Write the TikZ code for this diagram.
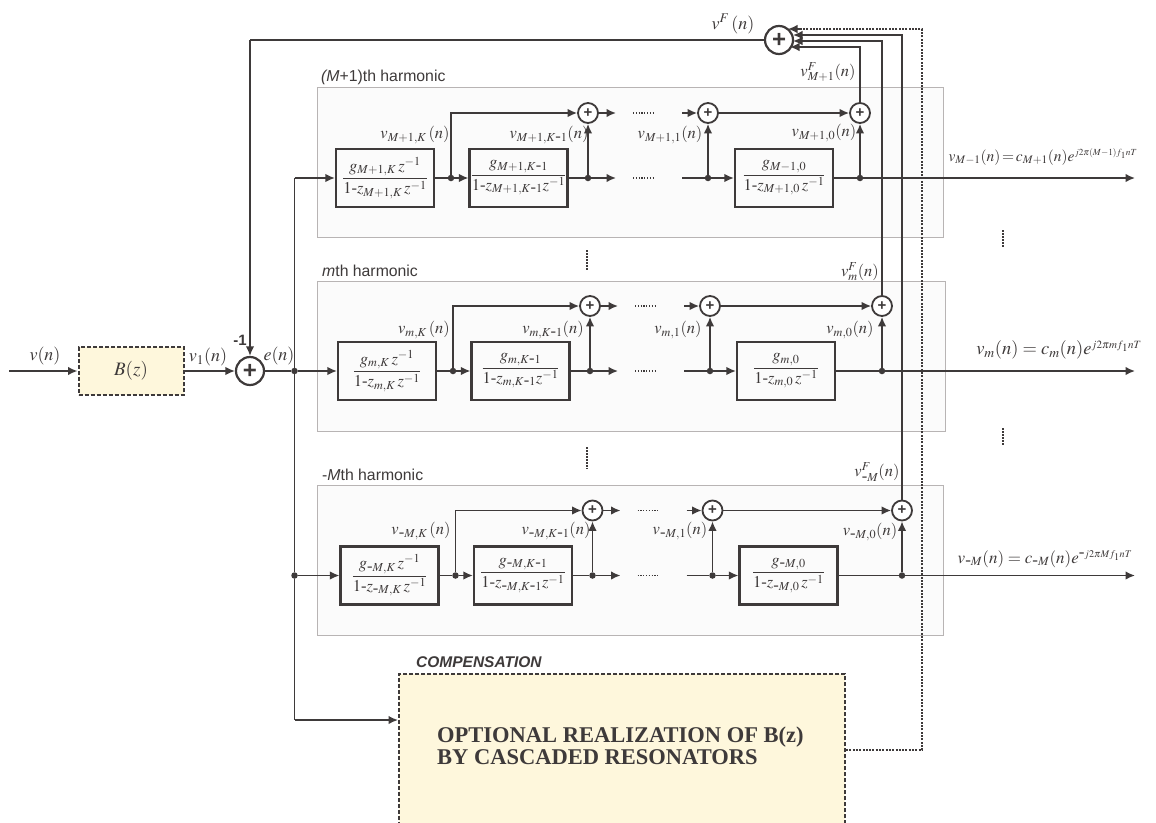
\documentclass[tikz,border=0pt]{standalone}
\usepackage{mathptmx}
\usepackage{fontspec}
\setmainfont{Liberation Serif}
\newfontfamily\hsans{Liberation Sans}
\usetikzlibrary{arrows.meta,calc}
\definecolor{ink}{HTML}{3E3A3A}
\definecolor{cream}{HTML}{FEF7DC}
\definecolor{paneledge}{HTML}{B8B4B4}
\definecolor{panelfill}{HTML}{FBFBFB}
\tikzset{
 wire/.style={draw=ink,line width=1.6pt},
 arr/.style={wire,-{Latex[length=9.5pt,width=8.5pt]}},
 panelbox/.style={draw=paneledge,fill=panelfill,line width=0.8pt},
 resbox/.style={draw=ink,fill=panelfill,line width=2.2pt,minimum width=98pt,minimum height=58pt,inner sep=0pt,text=ink,font=\fontsize{16.5}{19}\selectfont},
 smallsum/.style={circle,draw=ink,fill=white,line width=1.8pt,minimum size=20pt,inner sep=0pt,text=ink,font=\hsans\bfseries\fontsize{15}{15}\selectfont},
 bigsum/.style={circle,draw=ink,fill=white,line width=2.2pt,minimum size=28pt,inner sep=0pt,text=ink,font=\hsans\bfseries\fontsize{24}{24}\selectfont},
 junction/.style={circle,fill=ink,minimum size=6.5pt,inner sep=0pt},
 lab/.style={text=ink,inner sep=0pt,font=\fontsize{16.5}{19}\selectfont},
 outlab/.style={text=ink,inner sep=0pt,font=\fontsize{17}{19}\selectfont},
 head/.style={text=ink,inner sep=0pt,anchor=west,font=\hsans\fontsize{15.8}{18}\selectfont},
 cream box/.style={draw=ink,fill=cream,line width=2pt,dash pattern=on 4pt off 2pt},
 dotrun/.style={draw=ink,line width=1.5pt,dash pattern=on 1.5pt off 1.5pt},
 thindots/.style={draw=ink,line width=1.2pt,dash pattern=on 1.2pt off 1.6pt},
 comp wire/.style={draw=ink,line width=1.5pt,dash pattern=on 2pt off 1.3pt},
}
% #1 prefix, #2 dx, #3 y of line, #4 x of last sum, #5-#7 fractions
\newcommand{\harmrow}[7]{%
 \node[resbox] (#1b1) at (385+#2,#3) {$\displaystyle #5$};
 \node[resbox] (#1b2) at (518.5+#2,#3) {$\displaystyle #6$};
 \node[resbox] (#1b3) at (784+#2,#3) {$\displaystyle #7$};
 \node[junction] (#1j1) at (451+#2,#3) {};
 \node[junction] (#1j2) at (588+#2,#3) {};
 \node[junction] (#1j3) at (708+#2,#3) {};
 \node[junction] (#1j4) at (#4,#3) {};
 \node[smallsum] (#1s1) at (588+#2,#3-65) {+};
 \node[smallsum] (#1s2) at (708+#2,#3-65) {+};
 \node[smallsum] (#1s3) at (#4,#3-65) {+};
 \coordinate (#1t1) at (616+#2,#3-65);
 \coordinate (#1t2) at (682+#2,#3-65);
 \coordinate (#1t3) at (616+#2,#3);
 \coordinate (#1t4) at (682+#2,#3);
 \coordinate (#1out) at (1135,#3);
 \draw[wire] (#1b1.east) -- (#1j1);
 \draw[arr] (#1j1) -- (#1b2.west);
 \draw[arr] (#1j1) |- (#1s1.west);
 \draw[wire] (#1b2.east) -- (#1j2);
 \draw[arr] (#1j2) -- (#1s1.south);
 \draw[arr] (#1s1.east) -- (#1t1);
 \draw[arr] (#1j2) -- (#1t3);
 \draw[arr] (#1t2) -- (#1s2.west);
 \draw[wire] (#1t4) -- (#1j3);
 \draw[arr] (#1j3) -- (#1s2.south);
 \draw[arr] (#1j3) -- (#1b3.west);
 \draw[arr] (#1s2.east) -- (#1s3.west);
 \draw[wire] (#1b3.east) -- (#1j4);
 \draw[arr] (#1j4) -- (#1s3.south);
 \draw[arr] (#1j4) -- (#1out);
 \draw[thindots] (633+#2,#3-65) -- (655+#2,#3-65);
 \draw[thindots] (633+#2,#3) -- (655+#2,#3);
}
\newcommand{\rfrac}[2]{\frac{#1}{#2}}
\begin{document}
\begin{tikzpicture}[x=1pt,y=-1pt]
\clip (0,0) rectangle (1156,822);
\fill[white] (0,0) rectangle (1156,822);
% panels
\node[panelbox,minimum width=626pt,minimum height=150pt,inner sep=0pt] (p1) at (630,162) {};
\node[panelbox,minimum width=628pt,minimum height=150pt,inner sep=0pt] (p2) at (631,356) {};
\node[panelbox,minimum width=626pt,minimum height=150pt,inner sep=0pt] (p3) at (630,560) {};
\node[head] (h1) at (321,77) {\textit{(M}+1)th harmonic};
\node[head] (h2) at (322,271) {\textit{m}th harmonic};
\node[head] (h3) at (322,475) {-\textit{M}th harmonic};
% rows
\harmrow{a}{0}{178}{860}
 {\rfrac{g_{M+1,K}\,z^{-1}}{1\mbox{-}z_{M+1,K}\,z^{-1}}}
 {\rfrac{g_{M+1,K\mbox{-}1}}{1\mbox{-}z_{M+1,K\mbox{-}1}z^{-1}}}
 {\rfrac{g_{M-1,0}}{1\mbox{-}z_{M+1,0}\,z^{-1}}}
\harmrow{b}{2}{371}{882}
 {\rfrac{g_{m,K}\,z^{-1}}{1\mbox{-}z_{m,K}\,z^{-1}}}
 {\rfrac{g_{m,K\mbox{-}1}}{1\mbox{-}z_{m,K\mbox{-}1}z^{-1}}}
 {\rfrac{g_{m,0}}{1\mbox{-}z_{m,0}\,z^{-1}}}
\harmrow{c}{4.5}{575.5}{902}
 {\rfrac{g_{\mbox{-}M,K}\,z^{-1}}{1\mbox{-}z_{\mbox{-}M,K}\,z^{-1}}}
 {\rfrac{g_{\mbox{-}M,K\mbox{-}1}}{1\mbox{-}z_{\mbox{-}M,K\mbox{-}1}z^{-1}}}
 {\rfrac{g_{\mbox{-}M,0}}{1\mbox{-}z_{\mbox{-}M,0}\,z^{-1}}}
% input
\coordinate (in) at (9,371);
\node[cream box,minimum width=105pt,minimum height=48pt,inner sep=0pt,text=ink,font=\fontsize{19}{22}\selectfont] (bz) at (131,371) {$B(z)$};
\node[bigsum] (se) at (250,371) {+};
\node[junction] (je) at (294.5,371) {};
\node[bigsum] (sf) at (779,40) {+};
\node[junction] (jc) at (294.5,575.5) {};
\coordinate (tp) at (294.5,178);
\coordinate (bt) at (294.5,720);
\node[cream box,draw=ink,minimum width=446pt,minimum height=160pt,inner sep=0pt] (comp) at (622,754) {};
\node[anchor=west,inner sep=0pt,text=ink,align=left,font=\bfseries\fontsize{22.5}{22}\selectfont] (comptext) at (437,746) {OPTIONAL REALIZATION OF B(z)\\BY CASCADED RESONATORS};
\node[anchor=west,inner sep=0pt,text=ink,font=\hsans\bfseries\itshape\fontsize{15.5}{17}\selectfont] (comphead) at (416,662) {COMPENSATION};
\draw[arr] (in) -- (bz.west);
\draw[arr] (bz.east) -- (se.west);
\draw[wire] (se.east) -- (je);
\draw[arr] (je) -- (bb1.west);
\draw[arr] (tp) -- (ab1.west);
\draw[wire] (tp) -- (je);
\draw[wire] (je) -- (jc);
\draw[arr] (jc) -- (cb1.west);
\draw[wire] (jc) -- (bt);
\draw[arr] (bt) -- (bt -| comp.west);
% feedback
\coordinate (ff) at (250,40);
\draw[wire] (sf.west) -- (ff);
\draw[arr] (ff) -- (se.north);
\coordinate (k1) at (788,29);
\coordinate (k2) at (793,35);
\coordinate (k3) at (793,41);
\coordinate (k4) at (790,47);
\coordinate (d1) at (922,29);
\coordinate (d2) at (922,750);
\coordinate (d3) at (800,29);
\draw[arr] (as3.north) |- (k4);
\draw[arr] (bs3.north) |- (k3);
\draw[arr] (cs3.north) |- (k2);
\draw[comp wire] (comp.east |- d2) -- (d2) -- (d1) -- (d3);
\draw[arr] (d3) -- (k1);
% dotted ellipses
\draw[dotrun] (1003,230) -- (1003,248);
\draw[dotrun] (1003,428) -- (1003,446);
\draw[dotrun] (587,250) -- (587,270);
\draw[dotrun] (587,447) -- (587,469);
% labels
\node[lab,font=\fontsize{18}{20}\selectfont] (l1) at (45,356) {$v(n)$};
\node[lab,font=\fontsize{18}{20}\selectfont] (l2) at (208,357) {$v_1(n)$};
\node[lab,font=\fontsize{18}{20}\selectfont] (l3) at (279,356) {$e(n)$};
\node[lab,font=\hsans\bfseries\fontsize{15}{15}\selectfont] (l4) at (240,340) {-1};
\node[lab,font=\fontsize{18}{20}\selectfont] (l5) at (733,24) {$v^F\,(n)$};
\node[lab] (a1) at (415,135) {$v_{M+1,K}\,(n)$};
\node[lab] (a2) at (549,135) {$v_{M+1,K\mbox{-}1}(n)$};
\node[lab] (a3) at (670,135) {$v_{M+1,1}(n)$};
\node[lab] (a4) at (824,133) {$v_{M+1,0}(n)$};
\node[lab] (a5) at (828,72) {$v^F_{M+1}(n)$};
\node[outlab,font=\fontsize{15.5}{18}\selectfont] (a6) at (1043,157) {$v_{M-1}(n)\!=\!c_{M+1}(n)e^{\scriptscriptstyle j2\pi(M-1)f_1nT}$};
\node[lab] (b1) at (424,330) {$v_{m,K}\,(n)$};
\node[lab] (b2) at (553,330) {$v_{m,K\mbox{-}1}(n)$};
\node[lab] (b3) at (678,330) {$v_{m,1}(n)$};
\node[lab] (b4) at (850,330) {$v_{m,0}(n)$};
\node[lab] (b5) at (860,272) {$v^F_{m}(n)$};
\node[outlab,font=\fontsize{18.5}{21}\selectfont] (b6) at (1059,350) {$v_m(n)=c_m(n)e^{\scriptscriptstyle j2\pi mf_1nT}$};
\node[lab] (c1) at (421,531) {$v_{\mbox{-}M,K}\,(n)$};
\node[lab] (c2) at (556,531) {$v_{\mbox{-}M,K\mbox{-}1}(n)$};
\node[lab] (c3) at (680,531) {$v_{\mbox{-}M,1}(n)$};
\node[lab] (c4) at (870,532) {$v_{\mbox{-}M,0}(n)$};
\node[lab] (c5) at (877,472) {$v^F_{\mbox{-}M}(n)$};
\node[outlab] (c6) at (1045,559) {$v_{\mbox{-}M}(n)=c_{\mbox{-}M}(n)e^{\scriptscriptstyle\mbox{-}j2\pi Mf_1nT}$};
\end{tikzpicture}
\end{document}
